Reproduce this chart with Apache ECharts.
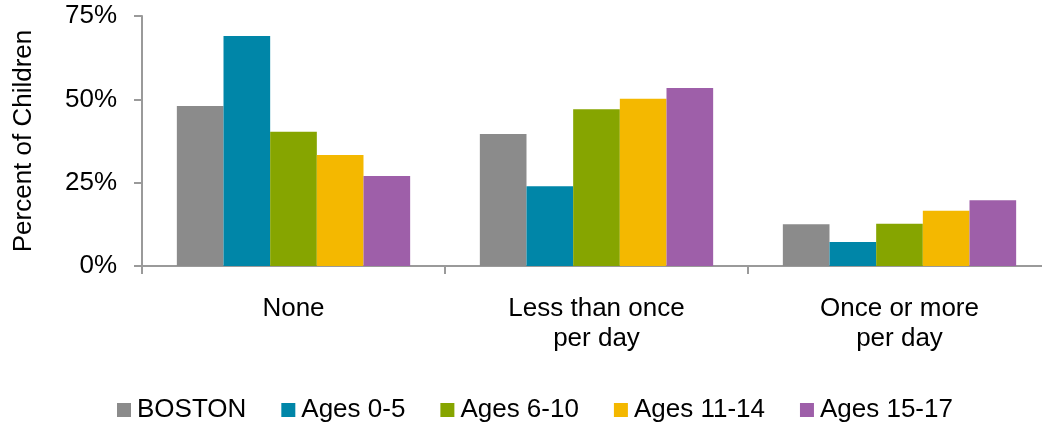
<!DOCTYPE html>
<html>
<head>
<meta charset="utf-8">
<script src="https://cdn.jsdelivr.net/npm/echarts@6/dist/echarts.min.js"></script>
<style>
html,body{margin:0;padding:0;background:#fff;}
#chart{width:1042px;height:426px;}
</style>
</head>
<body>
<div id="chart"></div>
<script>
const categories = ['None', 'Less than once\nper day', 'Once or more\nper day'];
const seriesNames = ['BOSTON', 'Ages 0-5', 'Ages 6-10', 'Ages 11-14', 'Ages 15-17'];
const boston = [48.0, 39.6, 12.5];
const ages0to5 = [69.0, 23.9, 7.2];
const ages6to10 = [40.3, 47.0, 12.7];
const ages11to14 = [33.3, 50.2, 16.6];
const ages15to17 = [27.0, 53.4, 19.7];
const yTicks = [0, 25, 50, 75];
const colors = ['#8B8B8B', '#0086A8', '#86A500', '#F4B800', '#9E5FA9'];

const seriesData = [boston, ages0to5, ages6to10, ages11to14, ages15to17];
const font = 'Liberation Sans, Arial, sans-serif';
const chart = echarts.init(document.getElementById('chart'), null, {renderer: 'canvas'});
chart.setOption({
  animation: false,
  color: colors,
  textStyle: {fontFamily: font},
  grid: {left: 142, top: 16, width: 909, height: 250, containLabel: false, outerBoundsMode: 'none'},
  legend: {
    data: seriesNames,
    left: 112,
    top: 392,
    icon: 'rect',
    itemWidth: 14,
    itemHeight: 14,
    itemGap: 35,
    textStyle: {fontSize: 26, color: '#000', fontFamily: font, padding: [0, 0, 0, 1]}
  },
  xAxis: {
    type: 'category',
    data: categories,
    axisLine: {lineStyle: {color: '#9A9A9A', width: 2}},
    axisTick: {show: true, length: 8, lineStyle: {color: '#9A9A9A', width: 2}},
    axisLabel: {fontSize: 26, color: '#000', margin: 28, lineHeight: 30, fontFamily: font, interval: 0}
  },
  yAxis: {
    type: 'value',
    min: 0,
    max: 75,
    interval: 25,
    name: 'Percent of Children',
    nameLocation: 'middle',
    nameGap: 105,
    nameTextStyle: {fontSize: 26, color: '#000', fontFamily: font},
    axisLine: {show: true, lineStyle: {color: '#9A9A9A', width: 2}},
    axisTick: {show: true, length: 8, lineStyle: {color: '#9A9A9A', width: 2}},
    splitLine: {show: false},
    axisLabel: {
      fontSize: 26, color: '#000', margin: 25, fontFamily: font, padding: [4, 0, 0, 0],
      formatter: v => yTicks.includes(v) ? v + '%' : ''
    }
  },
  series: seriesNames.map((n, i) => ({
    name: n,
    type: 'bar',
    data: seriesData[i],
    barGap: '0%',
    barCategoryGap: '23%',
    itemStyle: {color: colors[i]}
  }))
});
</script>
</body>
</html>
